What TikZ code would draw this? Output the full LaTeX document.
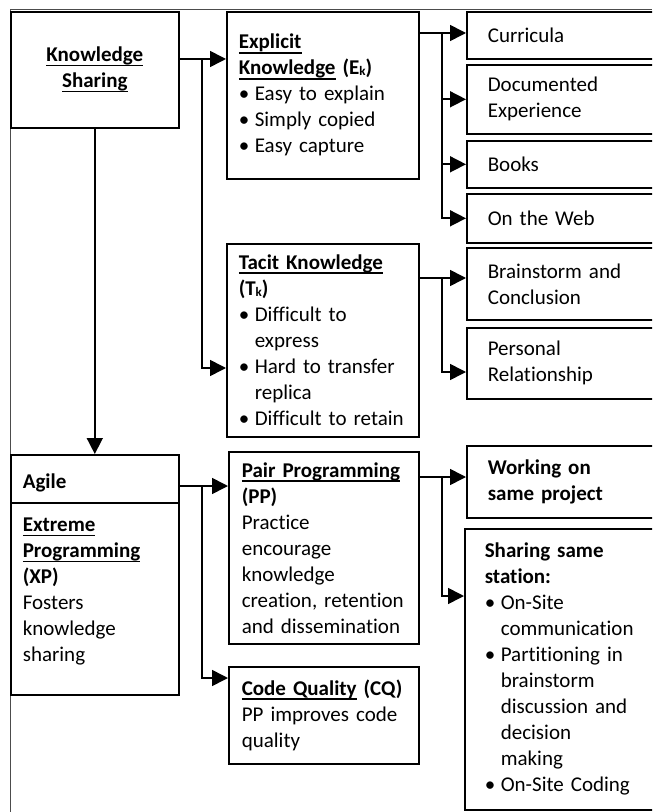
\documentclass[tikz,border=0pt]{standalone}
\usepackage{fontspec}
\setmainfont{Carlito}[Ligatures=NoCommon]
\usetikzlibrary{arrows.meta,positioning}

\newcommand\fs{\fontsize{10.5}{13}\selectfont\parindent=0pt}
\newcommand\ulbf[1]{\leavevmode\setbox0=\hbox{\bfseries #1}\rlap{\rule[-2.3pt]{\wd0}{0.9pt}}\box0\relax}
\newcommand\bitem{\par\hangindent=8pt\hangafter=1\noindent\makebox[8pt][l]{\textbullet}}
\newcommand\sub[1]{\raisebox{-0.5pt}{\fontsize{6.5}{7}\selectfont #1}}

\tikzset{
  box/.style={draw, line width=0.8pt, anchor=north west, inner ysep=0pt,
    inner xsep=6pt, align=left, font=\fs},
  rbox/.style={box, minimum width=97pt, text width=76pt, inner xsep=10.5pt},
  arr/.style={line width=0.8pt, -{Triangle[length=8pt,width=8pt]}},
  conn/.style={line width=0.8pt},
  frame/.style={line width=0.5pt, black!70}
}

\begin{document}
\begin{tikzpicture}[x=0.5pt,y=-0.5pt]
  \useasboundingbox (0,0) rectangle (652,812);
  \clip (0,0) rectangle (652,812);
  \draw[frame] (10,812) -- (10,10) -- (652,10);
% Knowledge sharing and its kinds
  \node[box, minimum width=84pt, minimum height=58pt, text width=72pt, align=center]
    (ks) at (10,11) {\ulbf{Knowledge}\\\ulbf{Sharing}};
  \node[box, minimum width=96pt, minimum height=83.5pt, text width=84pt]
    (exp) at (226,11) {\ulbf{Explicit}\\\ulbf{Knowledge} \textbf{(E\sub{k})}%
    \bitem Easy to explain\bitem Simply copied\bitem Easy capture};
  \node[box, minimum width=96pt, minimum height=96.5pt, text width=84pt]
    (tac) at (226,243) {\ulbf{Tacit Knowledge}\\\textbf{(T\sub{k})}%
    \bitem Difficult to\newline express\bitem Hard to transfer\newline replica%
    \bitem Difficult to retain};
% Sources
  \node[rbox, minimum height=23.5pt] (cur) at (466,11) {Curricula};
  \node[rbox, minimum height=34.5pt] (doc) at (466,64) {Documented\\Experience};
  \node[rbox, minimum height=23.5pt] (bks) at (466,140) {Books};
  \node[rbox, minimum height=24.5pt] (web) at (466,193) {On the Web};
  \node[rbox, minimum height=36pt] (brn) at (466,247) {Brainstorm and\\Conclusion};
  \node[rbox, minimum height=35.5pt] (per) at (466,327) {Personal\\Relationship};
% Agile
  \node[box, minimum width=84pt, minimum height=24pt, text width=72pt,
    text height=12.3pt, text depth=2.3pt] (agile) at (10,454) {\textbf{Agile}};
  \node[box, minimum width=84pt, minimum height=96pt, text width=72pt]
    (xp) at (10,502) {\ulbf{Extreme}\\\ulbf{Programming}\\\textbf{(XP)}\\Fosters\\knowledge\\sharing\par\kern7pt};
  \node[box, minimum width=95pt, minimum height=96pt, text width=82pt, inner xsep=6.5pt]
    (pp) at (228,451) {\ulbf{Pair Programming}\\\textbf{(PP)}\\Practice\\encourage\\knowledge\\creation, retention\\and dissemination};
  \node[box, minimum width=95pt, minimum height=48.5pt, text width=82pt, inner xsep=6.5pt]
    (cq) at (228,666) {\ulbf{Code Quality} \textbf{(CQ)}\\PP improves code\\quality};
  \node[rbox, minimum height=36pt] (wrk) at (466,445) {\textbf{Working on}\\\textbf{same project}};
  \node[rbox, minimum width=98pt, minimum height=140.5pt, text width=78pt, inner xsep=10pt]
    (shr) at (464,528) {\textbf{Sharing same}\\\textbf{station:}%
    \bitem On-Site\newline communication\bitem Partitioning in\newline brainstorm\newline
    discussion and\newline decision\newline making\bitem On-Site Coding};
% Connectors
  \coordinate (ksj) at (202,59);
  \coordinate (tkj) at (202,368);
  \draw[arr] (ks.east |- ksj) -- (exp.west |- ksj);
  \draw[arr] (ksj) |- (tac.west |- tkj);
  \draw[arr] (ks) -- (agile);
  \coordinate (ekj) at (442,33);
  \draw[arr] (exp.east |- ekj) -- (cur.west |- ekj);
  \draw[arr] (ekj) |- (doc.west);
  \draw[arr] (ekj) |- (bks.west);
  \draw[arr] (ekj) |- (web.west);
  \coordinate (tkr) at (442,278);
  \coordinate (prj) at (442,372);
  \draw[arr] (tac.east |- tkr) -- (brn.west |- tkr);
  \draw[arr] (tkr) |- (per.west |- prj);
  \coordinate (agj) at (202,486);
  \coordinate (cqj) at (202,678);
  \draw[arr] (agile.east |- agj) -- (pp.west |- agj);
  \draw[arr] (agj) |- (cq.west |- cqj);
  \coordinate (ppj) at (442,477);
  \coordinate (shj) at (442,596);
  \draw[arr] (pp.east |- ppj) -- (wrk.west |- ppj);
  \draw[arr] (ppj) |- (shr.west |- shj);
\end{tikzpicture}
\end{document}
